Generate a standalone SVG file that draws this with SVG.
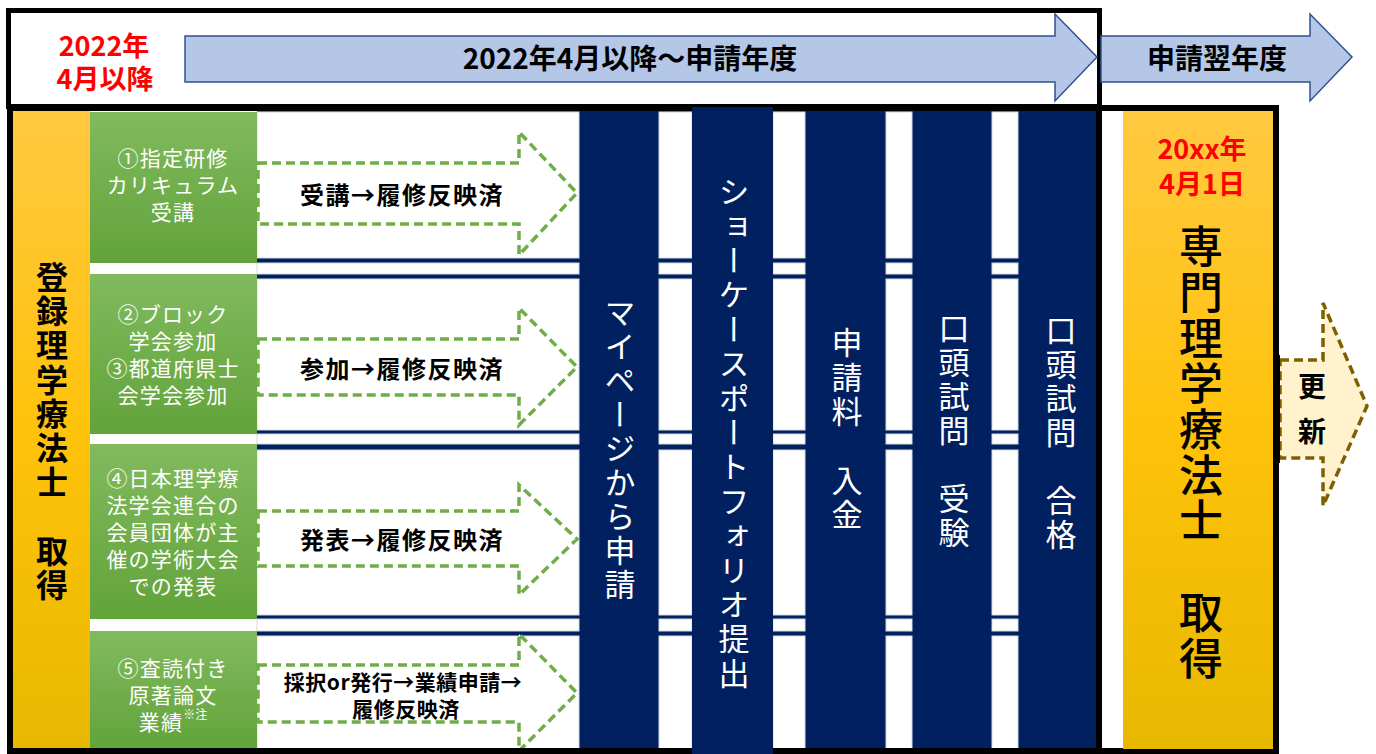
<svg xmlns="http://www.w3.org/2000/svg" width="1376" height="754" viewBox="0 0 1376 754">
<defs>
<linearGradient id="gOr" x1="0" y1="0" x2="0" y2="1"><stop offset="0" stop-color="#ffc941"/><stop offset="0.5" stop-color="#ffc20a"/><stop offset="1" stop-color="#e8b800"/></linearGradient>
<linearGradient id="gGr" x1="0" y1="0" x2="0" y2="1"><stop offset="0" stop-color="#81ba5e"/><stop offset="1" stop-color="#62a33a"/></linearGradient>
<style>
text{font-family:'Noto Sans CJK JP','Noto Sans CJK SC',sans-serif;}
.c{text-anchor:middle;dominant-baseline:central;}
.red{fill:#ff0000;font-weight:bold;font-size:27px;}
.blue{fill:#b4c7e7;stroke:#2f528f;stroke-width:1.5;}
.bt{font-weight:bold;font-size:28px;fill:#000;}
.wc{fill:#fff;stroke:#d3d8e0;stroke-width:1;}
.navy{fill:#002060;}
.green{fill:url(#gGr);}
.gt{fill:#fff;font-size:21px;letter-spacing:1.2px;}
.arr{fill:#fff;stroke:#70ad47;stroke-width:3.5;stroke-dasharray:9 5;stroke-linejoin:miter;}
.at{font-weight:bold;font-size:24px;letter-spacing:1.5px;fill:#000;}
.vt{writing-mode:vertical-rl;text-anchor:middle;fill:#fff;font-size:31px;}
.frame{fill:none;stroke:#000;}
</style>
</defs>
<rect width="1376" height="754" fill="#fff"/>

<g id="header">
<rect class="frame" x="8.5" y="10.5" width="1091" height="96" stroke-width="5"/>
<text class="c red" x="104" y="44">2022年<tspan x="105" dy="33">4月以降</tspan></text>
</g>
<g id="arrow-current-year">
<polygon class="blue" points="185,36 1055,36 1055,14 1097,57 1055,101 1055,82 185,82"/>
<text class="c bt" x="630" y="57">2022年4月以降～申請年度</text>
</g>
<g id="arrow-next-year">
<polygon class="blue" points="1101,36 1310,36 1310,14 1352,57 1310,101 1310,82 1101,82"/>
<text class="c bt" x="1217" y="57">申請翌年度</text>
</g>

<g id="grid">
<rect class="navy" x="257" y="110" width="840" height="641"/>
<g id="white-cells">
<rect class="wc" x="257" y="112" width="322" height="146"/>
<rect class="wc" x="257" y="263" width="322" height="11"/>
<rect class="wc" x="257" y="279" width="322" height="151"/>
<rect class="wc" x="257" y="434" width="322" height="10"/>
<rect class="wc" x="257" y="450" width="322" height="165"/>
<rect class="wc" x="257" y="619" width="322" height="12"/>
<rect class="wc" x="257" y="636" width="322" height="114"/>

<rect class="wc" x="659" y="112" width="33" height="146"/>
<rect class="wc" x="659" y="263" width="33" height="11"/>
<rect class="wc" x="659" y="279" width="33" height="151"/>
<rect class="wc" x="659" y="434" width="33" height="10"/>
<rect class="wc" x="659" y="450" width="33" height="165"/>
<rect class="wc" x="659" y="619" width="33" height="12"/>
<rect class="wc" x="659" y="636" width="33" height="114"/>

<rect class="wc" x="773" y="112" width="32" height="146"/>
<rect class="wc" x="773" y="263" width="32" height="11"/>
<rect class="wc" x="773" y="279" width="32" height="151"/>
<rect class="wc" x="773" y="434" width="32" height="10"/>
<rect class="wc" x="773" y="450" width="32" height="165"/>
<rect class="wc" x="773" y="619" width="32" height="12"/>
<rect class="wc" x="773" y="636" width="32" height="114"/>

<rect class="wc" x="886" y="112" width="26" height="146"/>
<rect class="wc" x="886" y="263" width="26" height="11"/>
<rect class="wc" x="886" y="279" width="26" height="151"/>
<rect class="wc" x="886" y="434" width="26" height="10"/>
<rect class="wc" x="886" y="450" width="26" height="165"/>
<rect class="wc" x="886" y="619" width="26" height="12"/>
<rect class="wc" x="886" y="636" width="26" height="114"/>

<rect class="wc" x="992" y="112" width="26" height="146"/>
<rect class="wc" x="992" y="263" width="26" height="11"/>
<rect class="wc" x="992" y="279" width="26" height="151"/>
<rect class="wc" x="992" y="434" width="26" height="10"/>
<rect class="wc" x="992" y="450" width="26" height="165"/>
<rect class="wc" x="992" y="619" width="26" height="12"/>
<rect class="wc" x="992" y="636" width="26" height="114"/>
</g>
</g>

<g id="registered-pt">
<rect x="13" y="111" width="77" height="638" fill="url(#gOr)"/>
<text class="vt" x="52" y="432" style="fill:#000;font-weight:bold;font-size:32px;letter-spacing:2.3px">登録理学療法士　取得</text>
</g>

<g id="item1">
<rect class="green" x="90" y="112" width="167" height="151"/>
<text class="c gt" x="173" y="157">①指定研修<tspan x="173" dy="27">カリキュラム</tspan><tspan x="173" dy="27">受講</tspan></text>
</g>
<g id="item2">
<rect class="green" x="90" y="274" width="167" height="160"/>
<text class="c gt" x="173" y="313">②ブロック<tspan x="173" dy="27">学会参加</tspan><tspan x="173" dy="27">③都道府県士</tspan><tspan x="173" dy="27">会学会参加</tspan></text>
</g>
<g id="item3">
<rect class="green" x="90" y="444" width="167" height="175"/>
<text class="c gt" x="173" y="477">④日本理学療<tspan x="173" dy="27">法学会連合の</tspan><tspan x="173" dy="27">会員団体が主</tspan><tspan x="173" dy="27">催の学術大会</tspan><tspan x="173" dy="27">での発表</tspan></text>
</g>
<g id="item4">
<rect class="green" x="90" y="631" width="167" height="119"/>
<text class="c gt" x="173" y="667">⑤査読付き<tspan x="173" dy="27">原著論文</tspan><tspan x="173" dy="27">業績</tspan><tspan font-size="12" dy="-8" letter-spacing="0">※注</tspan></text>
</g>

<g id="connectors">
<g id="conn1">
<polygon class="arr" points="258,163 519,163 519,132 577,193 519,255 519,224 258,224"/>
<text class="c at" x="402" y="193">受講→履修反映済</text>
</g>
<g id="conn2">
<polygon class="arr" points="258,339 519,339 519,308 577,367 519,425 519,395 258,395"/>
<text class="c at" x="402" y="367">参加→履修反映済</text>
</g>
<g id="conn3">
<polygon class="arr" points="258,511 519,511 519,485 577,539 519,595 519,566 258,566"/>
<text class="c at" x="402" y="538">発表→履修反映済</text>
</g>
<g id="conn4">
<polygon class="arr" points="258,665 519,665 519,634 577,693 519,751 519,722 258,722"/>
<text class="c at" x="403" y="681" style="font-size:21px;letter-spacing:0.5px">採択or発行→業績申請→<tspan x="406" dy="27">履修反映済</tspan></text>
</g>
</g>

<g id="frames">
<rect class="frame" x="10" y="108" width="1266" height="643" stroke-width="6"/>
<line x1="1099" y1="106" x2="1099" y2="752" stroke="#000" stroke-width="6"/>
</g>

<g id="step-mypage">
<text class="vt" x="620" y="450" style="letter-spacing:3px">マイページから申請</text>
</g>
<g id="step-portfolio">
<rect class="navy" x="692" y="107" width="81" height="647"/>
<text class="vt" x="734" y="434" style="letter-spacing:3.4px">ショーケースポートフォリオ提出</text>
</g>
<g id="step-fee">
<text class="vt" x="847" y="430" style="letter-spacing:3.3px">申請料　入金</text>
</g>
<g id="step-oral-exam">
<text class="vt" x="954" y="432" style="letter-spacing:3px">口頭試問　受験</text>
</g>
<g id="step-oral-pass">
<text class="vt" x="1061" y="434" style="letter-spacing:3px">口頭試問　合格</text>
</g>

<g id="specialist-pt">
<rect x="1123" y="111" width="150" height="638" fill="url(#gOr)"/>
<text class="c red" x="1202" y="147">20xx年<tspan x="1202" dy="35">4月1日</tspan></text>
<text class="vt" x="1201" y="453" style="fill:#000;font-size:44px;font-weight:500;letter-spacing:1.7px">専門理学療法士　取得</text>
</g>

<g id="renewal">
<polygon points="1280,360 1323,360 1323,303 1367,406 1323,506 1323,458 1280,458" fill="#fff2cc" stroke="#7f6000" stroke-width="3.5" stroke-dasharray="9 5"/>
<rect x="1273" y="355" width="7" height="108" fill="#000"/>
<text class="c" x="1312" y="385" style="font-size:28px;font-weight:bold">更<tspan x="1312" dy="45">新</tspan></text>
</g>
</svg>
